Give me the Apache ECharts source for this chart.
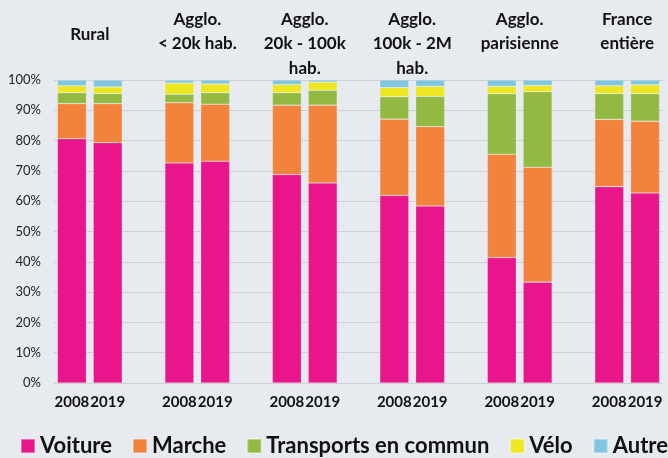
<!DOCTYPE html>
<html>
<head>
<meta charset="utf-8">
<script src="https://cdn.jsdelivr.net/npm/echarts@6/dist/echarts.min.js"></script>
<style>
html,body{margin:0;padding:0;background:#E7EAEF;}
#c{width:668px;height:458px;}
</style>
</head>
<body>
<div id="c"></div>
<script>
// Group titles (top of chart)
var groups = ['Rural', 'Agglo.\n< 20k hab.', 'Agglo.\n20k - 100k\nhab.', 'Agglo.\n100k - 2M\nhab.', 'Agglo.\nparisienne', 'France\nentière'];
var years = ['2008', '2019'];
var yTicks = [0, 10, 20, 30, 40, 50, 60, 70, 80, 90, 100];

// Values (%), order: for each group [2008, 2019]
var voiture    = [80.6, 79.3, 72.6, 73.2, 68.8, 66.0, 61.9, 58.4, 41.4, 33.3, 64.8, 62.7];
var marche     = [11.6, 12.9, 19.9, 18.8, 22.9, 25.7, 25.2, 26.2, 34.1, 37.9, 22.2, 23.7];
var transports = [ 3.6,  3.3,  2.8,  3.8,  4.1,  4.9,  7.4, 10.0, 20.0, 24.9,  8.5,  9.1];
var velo       = [ 2.3,  2.2,  3.7,  2.9,  2.7,  2.7,  3.0,  3.3,  2.4,  2.1,  2.6,  2.9];
var autre      = [ 1.9,  2.3,  1.0,  1.3,  1.5,  0.7,  2.5,  2.1,  2.1,  1.8,  1.9,  1.6];

var seriesNames = ['Voiture', 'Marche', 'Transports en commun', 'Vélo', 'Autre'];
var seriesData = [voiture, marche, transports, velo, autre];
var colors = ['#E8168A', '#F2823C', '#92BA42', '#EDE620', '#80C6DF'];

// Build category slots: 2008, 2019, gap, ...
var cats = [];
var slotOf = []; // index in values -> slot
groups.forEach(function (g, gi) {
  years.forEach(function (y, yi) {
    slotOf.push(cats.length);
    cats.push(y);
  });
  if (gi < groups.length - 1) cats.push('');
});

function toSlots(arr) {
  var out = cats.map(function () { return '-'; });
  arr.forEach(function (v, i) { out[slotOf[i]] = v; });
  return out;
}

var chart = echarts.init(document.getElementById('c'));
var font = 'Lato, "Open Sans", sans-serif';

chart.setOption({
  backgroundColor: '#E7EAEF',
  animation: false,
  color: colors,
  grid: { left: 54, right: 5, top: 80, bottom: 75, containLabel: false },
  legend: {
    data: seriesNames,
    left: 15, top: 430, width: 900,
    icon: 'rect', itemWidth: 14, itemHeight: 14, itemGap: 20,
    textStyle: { fontFamily: font, fontSize: 22, fontWeight: 'bold', color: '#111' }
  },
  xAxis: {
    type: 'category',
    data: cats,
    axisLine: { show: false },
    axisTick: { show: false },
    axisLabel: { interval: 0, fontFamily: font, fontSize: 15, fontWeight: 'bold', color: '#111', margin: 12 }
  },
  yAxis: {
    type: 'value', min: 0, max: 100, interval: 10,
    axisLabel: { formatter: '{value}%', fontFamily: font, fontSize: 13, color: '#222', margin: 13 },
    splitLine: { lineStyle: { color: '#CDD1D6', width: 1.2 } },
    axisLine: { show: false }, axisTick: { show: false }
  },
  series: seriesNames.map(function (n, i) {
    return {
      name: n, type: 'bar', stack: 'total', barWidth: 29,
      data: toSlots(seriesData[i]),
      itemStyle: { borderColor: 'rgba(255,255,255,0.35)', borderWidth: 0.6 }
    };
  })
});

// Group titles centered above each pair
var gfx = [];
groups.forEach(function (g, gi) {
  var x1 = chart.convertToPixel({ xAxisIndex: 0 }, slotOf[gi * 2]);
  var x2 = chart.convertToPixel({ xAxisIndex: 0 }, slotOf[gi * 2 + 1]);
  var lines = g.split('\n').length;
  gfx.push({
    type: 'text',
    x: (x1 + x2) / 2,
    y: lines === 1 ? 22 : 7,
    style: {
      text: g, align: 'center', verticalAlign: 'top',
      fontFamily: font, fontSize: 17, fontWeight: 'bold', fill: '#111', lineHeight: 24.5
    }
  });
});
chart.setOption({ graphic: gfx });
</script>
</body>
</html>
